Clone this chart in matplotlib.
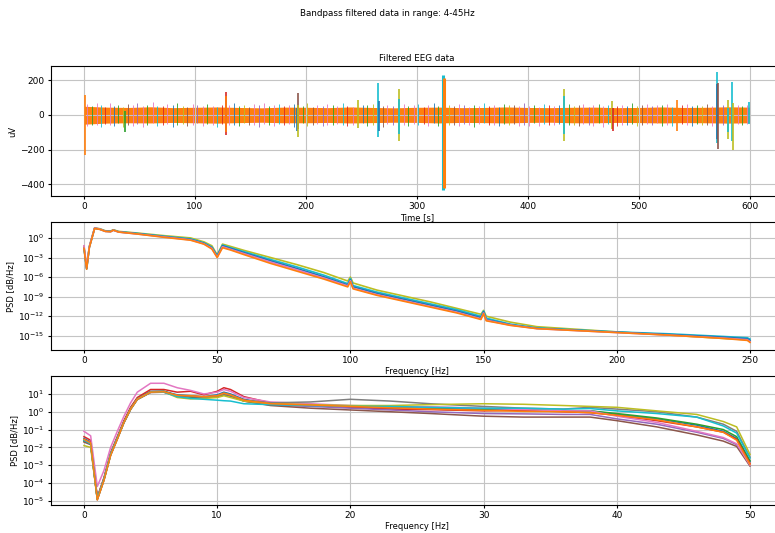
import numpy as np
import matplotlib.pyplot as plt

# ---------------- time domain (uV) ----------------
env_t = list(range(0, 601, 20))
core_hi = [50, 45, 43, 47, 42, 44, 46, 43, 41, 45, 44, 42, 46, 43, 41, 44,
           45, 42, 43, 46, 43, 42, 44, 45, 42, 43, 46, 43, 44, 47, 45]
core_lo = [-53, -47, -45, -46, -43, -45, -47, -44, -42, -45, -45, -43, -46, -44, -42, -43,
           -46, -43, -44, -46, -43, -42, -45, -45, -43, -44, -46, -44, -45, -47, -45]

fringe_t = [3, 7, 12, 15, 19, 23, 27, 31, 35, 40,
            44, 48, 53, 57, 62, 66, 71, 75, 80, 84,
            89, 93, 98, 102, 107, 111, 116, 120, 124, 131,
            135, 140, 144, 149, 153, 158, 162, 167, 171, 176,
            180, 185, 189, 197, 201, 206, 210, 215, 219, 224,
            228, 233, 237, 242, 251, 255, 260, 269, 273, 278,
            288, 292, 297, 301, 306, 310, 315, 319, 329, 333,
            338, 342, 347, 351, 356, 360, 365, 369, 374, 378,
            383, 387, 392, 396, 401, 405, 410, 414, 419, 423,
            428, 437, 441, 446, 450, 455, 459, 464, 468, 472,
            480, 485, 489, 494, 498, 503, 507, 512, 516, 521,
            525, 530, 539, 543, 548, 552, 557, 561, 566, 576,
            589, 593, 597]
fringe_hi = [62, 50, 70, 55, 48, 66, 52, 58, 47, 64,
             55, 68, 50, 60, 72, 53, 49, 63, 57, 70,
             52, 46, 65, 58, 50, 61, 54, 48, 60, 56,
             67, 51, 59, 47, 62, 55, 70, 50, 58, 64,
             49, 56, 61, 53, 66, 48, 59, 52, 63, 57,
             50, 68, 54, 46, 60, 55, 62, 49, 58, 53,
             65, 50, 57, 61, 48, 55, 66, 52, 59, 50,
             63, 56, 48, 60, 54, 69, 51, 58, 47, 62,
             55, 60, 50, 66, 53, 58, 48, 64, 56, 51,
             59, 62, 50, 57, 65, 48, 55, 61, 52, 58,
             54, 60, 49, 66, 52, 57, 63, 50, 58, 55,
             61, 48, 56, 62, 51, 59, 54, 64, 50, 57,
             60, 52, 58]
fringe_lo = [-66, -55, -60, -72, -50, -58, -63, -48, -70, -56,
             -61, -52, -68, -57, -49, -64, -59, -53, -71, -55,
             -50, -62, -57, -48, -66, -53, -60, -69, -52, -58,
             -55, -64, -49, -60, -57, -72, -51, -58, -63, -50,
             -59, -53, -67, -48, -61, -56, -52, -65, -57, -60,
             -50, -58, -63, -55, -48, -62, -57, -68, -51, -60,
             -56, -64, -50, -59, -53, -61, -48, -66, -55, -58,
             -62, -51, -57, -68, -53, -49, -60, -56, -64, -52,
             -58, -50, -63, -55, -61, -48, -66, -53, -59, -57,
             -52, -60, -56, -64, -50, -58, -62, -49, -67, -54,
             -61, -55, -59, -50, -65, -57, -52, -60, -48, -63,
             -56, -62, -50, -58, -66, -53, -60, -55, -61, -57,
             -54, -60, -52]

event_t = [0.5, 37, 127.5, 127.8, 192, 192.8, 193.2, 247, 265, 265.5, 283.8, 284.2,
           323.7, 324.3, 432.4, 432.8, 475.4, 476.2, 534, 570, 570.6, 571.5,
           580, 580.5, 584, 584.5, 599]
event_hi = [115, 20, 134, 110, 40, 125, 60, 86, 182, 80, 148, 90,
            228, 215, 148, 110, 83, 40, 88, 246, 180, 182,
            86, 40, 188, 70, 75]
event_lo = [-232, -96, -115, -100, -90, -80, -125, -77, -125, -90, -148, -110,
            -432, -420, -148, -110, -81, -92, -92, -163, -140, -198,
            -136, -100, -150, -202, -50]

# ---------------- PSD 0-250 Hz (log10 of PSD) ----------------
f_full = [0, 1, 2, 4, 6, 8, 10, 11, 13, 20, 30, 40, 45, 48, 50, 52, 55, 60, 70, 80,
          90, 99, 100, 101, 110, 120, 130, 140, 149, 150, 151, 155, 160, 170, 185, 200,
          220, 240, 249, 250]
full_olive = [-1.3, -4.6, -1.3, 1.55, 1.4, 1.1, 1.05, 1.25, 1.0, 0.75, 0.35, 0.0, -0.6, -1.2,
              -2.6, -0.95, -1.3, -1.9, -3.0, -4.1, -5.3, -6.6, -6.0, -6.9, -8.0, -8.9, -9.8,
              -10.8, -11.7, -11.1, -12.0, -12.4, -12.9, -13.6, -14.0, -14.4, -14.9, -15.4,
              -15.6, -15.8]
full_cyan = [-1.5, -4.7, -1.4, 1.5, 1.35, 1.05, 1.0, 1.22, 0.95, 0.7, 0.25, -0.15, -0.75, -1.4,
             -2.7, -1.1, -1.5, -2.1, -3.3, -4.45, -5.7, -7.0, -6.2, -7.3, -8.3, -9.2, -10.1,
             -11.0, -12.0, -11.2, -12.3, -12.7, -13.2, -13.8, -14.1, -14.4, -14.7, -15.1,
             -15.3, -15.5]
full_blue = [-1.55, -4.75, -1.45, 1.48, 1.32, 1.02, 0.98, 1.2, 0.92, 0.65, 0.2, -0.22, -0.82,
             -1.5, -2.8, -1.2, -1.6, -2.25, -3.5, -4.7, -5.95, -7.2, -6.4, -7.5, -8.5, -9.4,
             -10.3, -11.2, -12.2, -11.3, -12.5, -12.85, -13.3, -13.85, -14.15, -14.45, -14.8,
             -15.2, -15.45, -15.7]
full_pink = [-1.2, -4.5, -1.35, 1.52, 1.35, 1.0, 0.95, 1.18, 0.9, 0.6, 0.15, -0.3, -0.9, -1.6,
             -2.95, -1.35, -1.75, -2.4, -3.7, -4.9, -6.15, -7.35, -6.55, -7.7, -8.7, -9.6,
             -10.5, -11.4, -12.4, -11.5, -12.6, -12.95, -13.35, -13.9, -14.2, -14.5, -14.9,
             -15.35, -15.6, -15.9]
full_orange = [-1.6, -4.8, -1.5, 1.45, 1.3, 1.0, 0.95, 1.2, 0.9, 0.6, 0.1, -0.35, -0.95, -1.7,
               -3.0, -1.5, -1.85, -2.55, -3.9, -5.1, -6.3, -7.5, -6.7, -7.8, -8.8, -9.7, -10.6,
               -11.5, -12.5, -11.6, -12.7, -13.0, -13.4, -13.9, -14.2, -14.5, -14.9, -15.4,
               -15.7, -16.0]

# ---------------- PSD 0-50 Hz (log10 of PSD) ----------------
f_band = [0, 0.5, 1, 1.5, 2, 2.5, 3, 3.5, 4, 5, 6, 7, 8, 9, 10, 10.5, 11, 12, 14, 17,
          20, 23, 26, 30, 33, 36, 38, 40, 43, 46, 48, 49, 50]
band_blue = [-1.5, -1.7, -4.85, -3.75, -2.35, -1.45, -0.55, 0.2, 0.75, 1.15, 1.15, 0.95, 0.9,
             0.85, 0.95, 1.1, 1.0, 0.7, 0.45, 0.38, 0.3, 0.25, 0.2, 0.15, 0.1, 0.05, 0.05,
             -0.15, -0.4, -0.75, -1.1, -1.5, -2.8]
band_green = [-1.65, -1.8, -4.9, -3.8, -2.4, -1.5, -0.58, 0.18, 0.72, 1.12, 1.15, 0.9, 0.82,
              0.78, 0.85, 0.95, 0.88, 0.62, 0.42, 0.35, 0.28, 0.2, 0.15, 0.1, 0.08, 0.05, 0.05,
              -0.1, -0.35, -0.7, -1.0, -1.4, -2.75]
band_red = [-1.4, -1.6, -4.8, -3.7, -2.3, -1.4, -0.5, 0.25, 0.8, 1.25, 1.25, 1.1, 1.15, 0.95,
            1.15, 1.35, 1.25, 0.85, 0.5, 0.35, 0.25, 0.15, 0.12, 0.05, 0.08, 0.0, -0.05,
            -0.2, -0.5, -0.85, -1.15, -1.55, -2.9]
band_purple = [-1.6, -1.75, -4.9, -3.8, -2.4, -1.5, -0.6, 0.15, 0.7, 1.1, 1.1, 0.9, 0.88, 0.8,
               0.9, 1.0, 0.92, 0.6, 0.38, 0.3, 0.2, 0.1, 0.0, -0.1, -0.12, -0.15, -0.15,
               -0.4, -0.7, -1.15, -1.5, -1.85, -3.0]
band_brown = [-1.7, -1.85, -4.95, -3.85, -2.45, -1.55, -0.62, 0.12, 0.68, 1.08, 1.1, 0.88,
              0.85, 0.8, 0.85, 0.98, 0.9, 0.6, 0.35, 0.2, 0.1, 0.0, -0.1, -0.25, -0.3, -0.3,
              -0.3, -0.5, -0.85, -1.3, -1.65, -1.95, -3.05]
band_pink = [-1.1, -1.35, -4.2, -3.3, -2.0, -1.1, -0.25, 0.5, 1.1, 1.6, 1.6, 1.35, 1.2, 1.0,
             1.1, 1.25, 1.15, 0.8, 0.55, 0.45, 0.35, 0.3, 0.28, 0.2, 0.12, 0.05, 0.05, -0.25,
             -0.6, -1.1, -1.45, -1.8, -3.0]
band_gray = [-1.6, -1.8, -4.9, -3.8, -2.4, -1.5, -0.58, 0.18, 0.72, 1.12, 1.12, 0.92, 0.88,
             0.82, 0.88, 1.0, 0.92, 0.65, 0.5, 0.55, 0.7, 0.6, 0.45, 0.3, 0.2, 0.15, 0.25,
             0.15, 0.0, -0.3, -0.7, -1.1, -2.55]
band_olive = [-1.9, -2.0, -4.9, -3.8, -2.4, -1.5, -0.6, 0.15, 0.7, 1.1, 1.12, 0.8, 0.72, 0.75,
              0.8, 0.9, 0.8, 0.6, 0.45, 0.4, 0.35, 0.35, 0.4, 0.45, 0.42, 0.35, 0.3, 0.25,
              0.05, -0.15, -0.55, -0.85, -2.4]
band_cyan = [-1.6, -1.8, -4.9, -3.8, -2.4, -1.5, -0.6, 0.15, 0.7, 1.1, 1.1, 0.85, 0.75, 0.7,
             0.65, 0.62, 0.6, 0.45, 0.4, 0.35, 0.3, 0.3, 0.25, 0.2, 0.2, 0.15, 0.18, 0.05,
             -0.1, -0.3, -0.8, -1.2, -2.6]
band_orange = [-1.55, -1.75, -4.95, -3.85, -2.45, -1.55, -0.6, 0.15, 0.7, 1.1, 1.12, 0.92,
               0.9, 0.85, 0.9, 1.05, 0.95, 0.65, 0.45, 0.38, 0.3, 0.22, 0.15, 0.08, 0.02, 0.0,
               -0.05, -0.2, -0.45, -0.85, -1.15, -1.6, -2.95]

plt.rcParams['font.size'] = 6
plt.rcParams['axes.titlesize'] = 6.3
plt.rcParams['xtick.labelsize'] = 6.5
plt.rcParams['ytick.labelsize'] = 6.5
plt.rcParams['grid.color'] = '#c4c4c4'
for ax_name in ('xtick', 'ytick'):
    plt.rcParams[ax_name + '.major.size'] = 2.5
    plt.rcParams[ax_name + '.major.pad'] = 2
    plt.rcParams[ax_name + '.minor.size'] = 1.5

fig = plt.figure(figsize=(7.75, 5.33), dpi=100)
fig.suptitle('Bandpass filtered data in range: 4-45Hz', y=0.974, va='center', fontsize=6.3)

left, width = 0.0654, 0.9453

# --- Filtered EEG data
ax1 = fig.add_axes([left, 0.632, width, 0.244])
fringe_cols = ['C6', 'C2', 'C6', 'C9', 'C3', 'C6', 'C0', 'C2', 'C8', 'C5', 'C6', 'C4']
for i, (t, hi, lo) in enumerate(zip(fringe_t, fringe_hi, fringe_lo)):
    ax1.vlines(t, lo, hi, color=fringe_cols[i % len(fringe_cols)], lw=0.6)
ax1.fill_between(env_t, core_lo, core_hi, color='C1', lw=0)
event_cols = ['C1', 'C2', 'C3', 'C1', 'C0', 'C5', 'C8', 'C8', 'C9', 'C0', 'C8', 'C9',
              'C9', 'C1', 'C8', 'C9', 'C8', 'C3', 'C1', 'C9', 'C0', 'C5',
              'C8', 'C9', 'C9', 'C8', 'C9']
for t, hi, lo, c in zip(event_t, event_hi, event_lo, event_cols):
    ax1.vlines(t, lo, hi, color=c, lw=2.2 if abs(lo) > 300 else 1.2)
ax1.set_xlim(-30, 630)
ax1.set_ylim(-467, 281)
ax1.set_yticks([-400, -200, 0, 200])
ax1.set_xticks(range(0, 601, 100))
ax1.set_title('Filtered EEG data', pad=4)
ax1.set_xlabel('Time [s]', labelpad=1)
ax1.set_ylabel('uV', labelpad=2)
ax1.grid(True)

# --- PSD full range
ax2 = fig.add_axes([left, 0.343, width, 0.240])
full_curves = [(full_olive, 'C8'), (full_cyan, 'C9'), (full_blue, 'C0'),
               (full_pink, 'C6'), (full_orange, 'C1')]
for vals, c in full_curves:
    ax2.semilogy(f_full, 10.0 ** np.array(vals), color=c, lw=1.2)
ax2.set_xlim(-12.5, 262.5)
ax2.set_ylim(10 ** -17.2, 10 ** 2.4)
ax2.set_yticks([10.0 ** k for k in (-15, -12, -9, -6, -3, 0)])
ax2.set_yticks([], minor=True)
ax2.set_xlabel('Frequency [Hz]', labelpad=1)
ax2.set_ylabel('PSD [dB/Hz]', labelpad=2)
ax2.grid(True)

# --- PSD 0-50 Hz
ax3 = fig.add_axes([left, 0.0525, width, 0.2421])
band_curves = [(band_blue, 'C0'), (band_green, 'C2'), (band_red, 'C3'), (band_purple, 'C4'),
               (band_brown, 'C5'), (band_pink, 'C6'), (band_gray, 'C7'), (band_olive, 'C8'),
               (band_cyan, 'C9'), (band_orange, 'C1')]
for vals, c in band_curves:
    ax3.semilogy(f_band, 10.0 ** np.array(vals), color=c, lw=1.1)
ax3.set_xlim(-2.5, 52.5)
ax3.set_ylim(10 ** -5.24, 10 ** 2.01)
ax3.set_yticks([10.0 ** k for k in range(-5, 2)])
ax3.set_xlabel('Frequency [Hz]', labelpad=1)
ax3.set_ylabel('PSD [dB/Hz]', labelpad=2)
ax3.grid(True)

fig.savefig('out.png', dpi=100)
